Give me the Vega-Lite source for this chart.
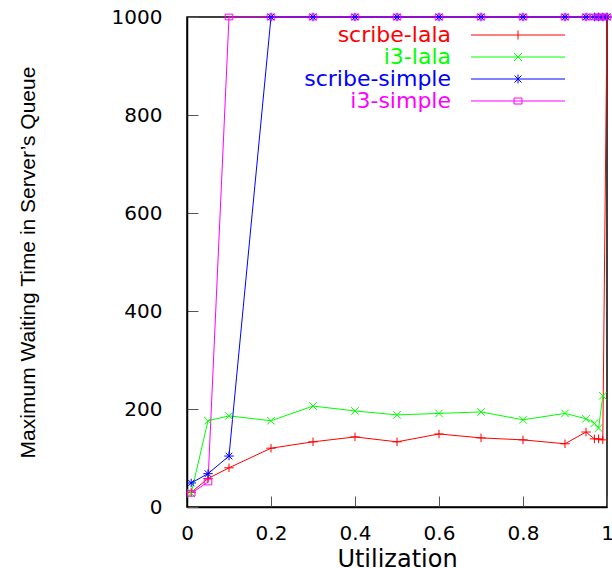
{
  "$schema": "https://vega.github.io/schema/vega-lite/v6.json",
  "width": 420,
  "height": 490,
  "autosize": {"type": "none"},
  "padding": {"left": 187, "top": 17, "right": 5, "bottom": 61},
  "background": "white",
  "config": {
    "view": {"stroke": "black", "strokeWidth": 1.5},
    "axis": {
      "grid": false,
      "domainColor": "black",
      "domainWidth": 1.5,
      "tickColor": "#555555",
      "tickSize": -11,
      "tickWidth": 1,
      "labelColor": "black",
      "labelFont": "DejaVu Sans",
      "labelFontSize": 20,
      "labelFlush": false,
      "labelOverlap": false,
      "titleColor": "black",
      "titleFontWeight": "normal"
    }
  },
  "data": {
    "values": [
      {"series": "scribe-lala", "u": 0.01, "wait": 30},
      {"series": "scribe-lala", "u": 0.05, "wait": 58},
      {"series": "scribe-lala", "u": 0.1, "wait": 80},
      {"series": "scribe-lala", "u": 0.2, "wait": 120},
      {"series": "scribe-lala", "u": 0.3, "wait": 133},
      {"series": "scribe-lala", "u": 0.4, "wait": 143},
      {"series": "scribe-lala", "u": 0.5, "wait": 133},
      {"series": "scribe-lala", "u": 0.6, "wait": 149},
      {"series": "scribe-lala", "u": 0.7, "wait": 141},
      {"series": "scribe-lala", "u": 0.8, "wait": 137},
      {"series": "scribe-lala", "u": 0.9, "wait": 129},
      {"series": "scribe-lala", "u": 0.95, "wait": 153},
      {"series": "scribe-lala", "u": 0.97, "wait": 139},
      {"series": "scribe-lala", "u": 0.98, "wait": 139},
      {"series": "scribe-lala", "u": 0.99, "wait": 137},
      {"series": "scribe-lala", "u": 1.0, "wait": 1000},
      {"series": "i3-lala", "u": 0.01, "wait": 28},
      {"series": "i3-lala", "u": 0.05, "wait": 176},
      {"series": "i3-lala", "u": 0.1, "wait": 186},
      {"series": "i3-lala", "u": 0.2, "wait": 176},
      {"series": "i3-lala", "u": 0.3, "wait": 206},
      {"series": "i3-lala", "u": 0.4, "wait": 196},
      {"series": "i3-lala", "u": 0.5, "wait": 188},
      {"series": "i3-lala", "u": 0.6, "wait": 191},
      {"series": "i3-lala", "u": 0.7, "wait": 194},
      {"series": "i3-lala", "u": 0.8, "wait": 178},
      {"series": "i3-lala", "u": 0.9, "wait": 191},
      {"series": "i3-lala", "u": 0.95, "wait": 180},
      {"series": "i3-lala", "u": 0.97, "wait": 171},
      {"series": "i3-lala", "u": 0.98, "wait": 161},
      {"series": "i3-lala", "u": 0.99, "wait": 227},
      {"series": "scribe-simple", "u": 0.01, "wait": 49},
      {"series": "scribe-simple", "u": 0.05, "wait": 68},
      {"series": "scribe-simple", "u": 0.1, "wait": 104},
      {"series": "scribe-simple", "u": 0.2, "wait": 1000},
      {"series": "scribe-simple", "u": 0.3, "wait": 1000},
      {"series": "scribe-simple", "u": 0.4, "wait": 1000},
      {"series": "scribe-simple", "u": 0.5, "wait": 1000},
      {"series": "scribe-simple", "u": 0.6, "wait": 1000},
      {"series": "scribe-simple", "u": 0.7, "wait": 1000},
      {"series": "scribe-simple", "u": 0.8, "wait": 1000},
      {"series": "scribe-simple", "u": 0.9, "wait": 1000},
      {"series": "scribe-simple", "u": 0.95, "wait": 1000},
      {"series": "scribe-simple", "u": 0.97, "wait": 1000},
      {"series": "scribe-simple", "u": 0.98, "wait": 1000},
      {"series": "scribe-simple", "u": 0.99, "wait": 1000},
      {"series": "scribe-simple", "u": 1.0, "wait": 1000},
      {"series": "i3-simple", "u": 0.01, "wait": 28},
      {"series": "i3-simple", "u": 0.05, "wait": 51},
      {"series": "i3-simple", "u": 0.1, "wait": 1000},
      {"series": "i3-simple", "u": 0.2, "wait": 1000},
      {"series": "i3-simple", "u": 0.3, "wait": 1000},
      {"series": "i3-simple", "u": 0.4, "wait": 1000},
      {"series": "i3-simple", "u": 0.5, "wait": 1000},
      {"series": "i3-simple", "u": 0.6, "wait": 1000},
      {"series": "i3-simple", "u": 0.7, "wait": 1000},
      {"series": "i3-simple", "u": 0.8, "wait": 1000},
      {"series": "i3-simple", "u": 0.9, "wait": 1000},
      {"series": "i3-simple", "u": 0.95, "wait": 1000},
      {"series": "i3-simple", "u": 0.97, "wait": 1000},
      {"series": "i3-simple", "u": 0.98, "wait": 1000},
      {"series": "i3-simple", "u": 0.99, "wait": 1000},
      {"series": "i3-simple", "u": 1.0, "wait": 1000}
    ]
  },
  "encoding": {
    "x": {
      "field": "u",
      "type": "quantitative",
      "scale": {"domain": [0, 1], "nice": false, "zero": false},
      "axis": {
        "values": [0, 0.2, 0.4, 0.6, 0.8, 1],
        "format": "~g",
        "labelPadding": 27,
        "title": "Utilization",
        "titleFont": "DejaVu Sans",
        "titleFontSize": 24,
        "titleX": 210,
        "titleY": 59,
        "titleBaseline": "alphabetic"
      }
    },
    "y": {
      "field": "wait",
      "type": "quantitative",
      "scale": {"domain": [0, 1000], "nice": false},
      "axis": {
        "values": [0, 200, 400, 600, 800, 1000],
        "format": "d",
        "labelPadding": 36,
        "title": "Maximum Waiting Time in Server’s Queue",
        "titleFont": "Liberation Sans",
        "titleFontSize": 21,
        "titleX": -153,
        "titleY": 245,
        "titleBaseline": "alphabetic"
      }
    },
    "color": {
      "field": "series",
      "type": "nominal",
      "scale": {
        "domain": ["scribe-lala", "i3-lala", "scribe-simple", "i3-simple"],
        "range": ["#ff0000", "#00ff00", "#0000ff", "#ff00ff"]
      },
      "legend": {
        "orient": "none",
        "legendX": 320,
        "legendY": 7,
        "title": null,
        "padding": 0,
        "labelFont": "DejaVu Sans",
        "labelFontSize": 22,
        "labelLimit": 0,
        "symbolSize": 100,
        "rowPadding": 0,
        "encode": {
          "symbols": {
            "update": {
              "shape": {"signal": "datum.value == 'scribe-lala' ? 'M-9.4,0H9.4M0,-0.9V0.9' : datum.value == 'i3-lala' ? 'M-9.4,0H9.4M-0.8,-0.8L0.8,0.8M-0.8,0.8L0.8,-0.8' : datum.value == 'scribe-simple' ? 'M-9.4,0H9.4M0,-0.9V0.9M-0.7,-0.7L0.7,0.7M-0.7,0.7L0.7,-0.7' : 'M-9.4,0H9.4M-0.8,-0.6H0.8V0.6H-0.8Z'"},
              "stroke": {"scale": "color", "field": "value"},
              "fill": {"value": "transparent"},
              "strokeWidth": {"value": 1},
              "size": {"value": 100},
              "opacity": {"value": 1}
            }
          },
          "labels": {
            "update": {
              "x": {"value": -56},
              "align": {"value": "right"},
              "fill": {"scale": "color", "field": "value"}
            }
          }
        }
      }
    }
  },
  "layer": [
    {"mark": {"type": "line", "strokeWidth": 1, "clip": false}},
    {
      "transform": [{"filter": "datum.series == 'scribe-lala'"}],
      "mark": {"type": "point", "filled": false, "strokeWidth": 1, "size": 90, "opacity": 1, "clip": false, "shape": "M-1,0H1M0,-0.9V0.9"}
    },
    {
      "transform": [{"filter": "datum.series == 'i3-lala'"}],
      "mark": {"type": "point", "filled": false, "strokeWidth": 1, "size": 90, "opacity": 1, "clip": false, "shape": "M-0.8,-0.8L0.8,0.8M-0.8,0.8L0.8,-0.8"}
    },
    {
      "transform": [{"filter": "datum.series == 'scribe-simple'"}],
      "mark": {"type": "point", "filled": false, "strokeWidth": 1, "size": 90, "opacity": 1, "clip": false, "shape": "M-1,0H1M0,-0.9V0.9M-0.7,-0.7L0.7,0.7M-0.7,0.7L0.7,-0.7"}
    },
    {
      "transform": [{"filter": "datum.series == 'i3-simple'"}],
      "mark": {"type": "point", "filled": false, "strokeWidth": 1, "size": 90, "opacity": 1, "clip": false, "shape": "M-0.8,-0.6H0.8V0.6H-0.8Z"}
    }
  ]
}
